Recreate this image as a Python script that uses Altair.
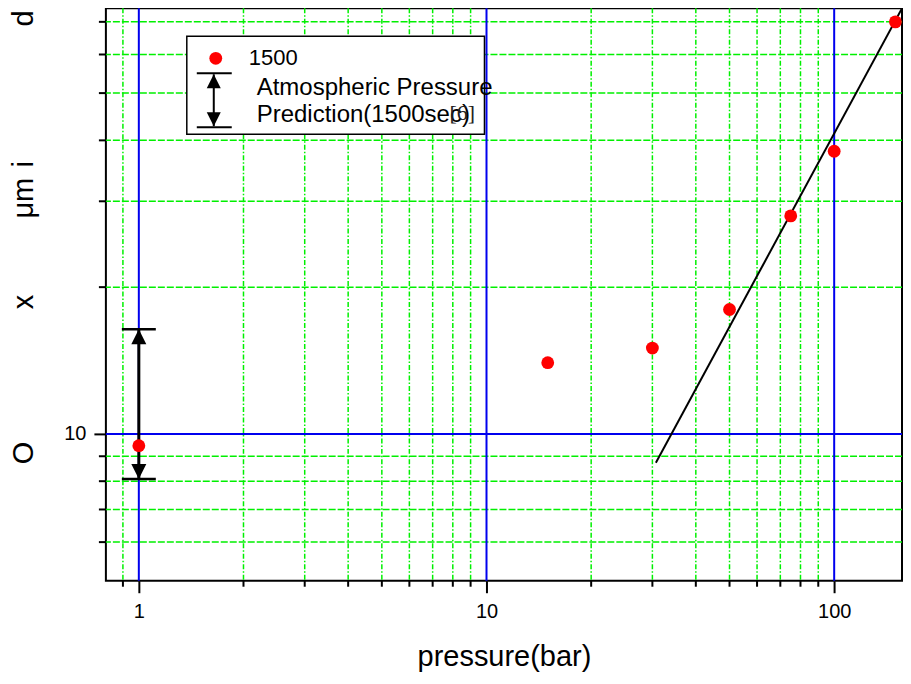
import altair as alt
import pandas as pd

# ---- data ----
pressure = [1, 15, 30, 50, 75, 100, 150]
oxide = [9.46, 14.0, 15.0, 18.0, 28.0, 38.0, 70.0]
fit_x = [30.7, 157]
fit_y = [8.73, 74.8]
err_x = [1]
err_lo = [8.08]
err_hi = [16.4]
x_major = [1, 10, 100]
x_minor = [0.9, 2, 3, 4, 5, 6, 7, 8, 9, 20, 30, 40, 50, 60, 70, 80, 90]
y_major = [10]
y_minor = [6, 7, 8, 9, 20, 30, 40, 50, 60, 70]
legend_labels = ["1500", "Atmospheric Pressure", "Prediction(1500sec)", "[6]"]
y_title_parts = ["O", "x", "μm", "i", "d"]
x_title = "pressure(bar)"

W, H = 797, 573
FONT = "Liberation Sans"
GREEN = "#00f000"
BLUE = "#0000ee"

xs = alt.Scale(type="log", domain=[0.804, 156.7], nice=False)
ys = alt.Scale(type="log", domain=[5.0, 74.6], nice=False)

AX = alt.Axis(values=x_major, tickSize=12, tickWidth=2, tickColor="black", grid=False,
              domain=False, labelFont=FONT, labelFontSize=20, labelColor="black",
              labelPadding=9, title=None, labelExpr="format(datum.value, 'd')")
AY = alt.Axis(values=y_major, tickSize=12, tickWidth=2, tickColor="black", grid=False,
              domain=False, labelFont=FONT, labelFontSize=20, labelColor="black",
              labelPadding=8, title=None, labelExpr="format(datum.value, 'd')")

def X(f):
    return alt.X(f, type="quantitative", scale=xs, axis=AX)

def Y(f):
    return alt.Y(f, type="quantitative", scale=ys, axis=AY)

pts = pd.DataFrame({"p": pressure, "o": oxide})
fit = pd.DataFrame({"p": fit_x, "o": fit_y})
err = pd.DataFrame({"p": err_x, "lo": err_lo, "hi": err_hi})
xmaj = pd.DataFrame({"p": x_major})
xmin = pd.DataFrame({"p": x_minor})
ymaj = pd.DataFrame({"o": y_major})
ymin = pd.DataFrame({"o": y_minor})
one = pd.DataFrame({"k": [0]})

layers = []
# gridlines
layers.append(alt.Chart(xmin).mark_rule(color=GREEN, strokeWidth=1.5, strokeDash=[5, 2, 1.5, 2]).encode(x=X("p")))
layers.append(alt.Chart(ymin).mark_rule(color=GREEN, strokeWidth=1.5, strokeDash=[7, 2]).encode(y=Y("o")))
layers.append(alt.Chart(xmaj).mark_rule(color=BLUE, strokeWidth=2).encode(x=X("p")))
layers.append(alt.Chart(ymaj).mark_rule(color=BLUE, strokeWidth=2).encode(y=Y("o")))
# minor ticks
layers.append(alt.Chart(xmin).mark_rule(color="black", strokeWidth=2).encode(
    x=X("p"), y=alt.value(H), y2=alt.value(H + 6)))
layers.append(alt.Chart(ymin).mark_rule(color="black", strokeWidth=2).encode(
    y=Y("o"), x=alt.value(-7), x2=alt.value(0)))
# error bar at atmospheric pressure
layers.append(alt.Chart(err).mark_rule(color="black", strokeWidth=3).encode(
    x=X("p"), y=Y("lo"), y2="hi"))
layers.append(alt.Chart(err).mark_tick(color="black", orient="horizontal", size=34, thickness=2.5, opacity=1).encode(
    x=X("p"), y=Y("lo")))
layers.append(alt.Chart(err).mark_tick(color="black", orient="horizontal", size=34, thickness=2.5, opacity=1).encode(
    x=X("p"), y=Y("hi")))
layers.append(alt.Chart(err).mark_point(shape="M0,0L-1,2L1,2Z", size=225, filled=True, color="black", opacity=1).encode(
    x=X("p"), y=Y("hi")))
layers.append(alt.Chart(err).mark_point(shape="M0,0L-1,-2L1,-2Z", size=225, filled=True, color="black", opacity=1).encode(
    x=X("p"), y=Y("lo")))
# fit line
layers.append(alt.Chart(fit).mark_line(color="black", strokeWidth=2).encode(x=X("p"), y=Y("o")))
# points
layers.append(alt.Chart(pts).mark_circle(color="#ff0000", size=165, opacity=1).encode(x=X("p"), y=Y("o")))

# legend
layers.append(alt.Chart(one).mark_rect(fill="white", stroke="black", strokeWidth=1.5).encode(
    x=alt.value(81), x2=alt.value(379), y=alt.value(28), y2=alt.value(126)))
layers.append(alt.Chart(one).mark_circle(color="#ff0000", size=165, opacity=1).encode(
    x=alt.value(110), y=alt.value(50)))
layers.append(alt.Chart(one).mark_text(text=legend_labels[0], font=FONT, fontSize=22, align="left",
    baseline="middle", color="black").encode(x=alt.value(143), y=alt.value(50)))
layers.append(alt.Chart(one).mark_rule(color="black", strokeWidth=2).encode(
    x=alt.value(108), y=alt.value(66), y2=alt.value(118)))
layers.append(alt.Chart(one).mark_rule(color="black", strokeWidth=2).encode(
    x=alt.value(91), x2=alt.value(126), y=alt.value(65)))
layers.append(alt.Chart(one).mark_rule(color="black", strokeWidth=2).encode(
    x=alt.value(91), x2=alt.value(126), y=alt.value(119)))
layers.append(alt.Chart(one).mark_point(shape="M0,0L-1,2L1,2Z", size=196, filled=True, color="black", opacity=1).encode(
    x=alt.value(108), y=alt.value(66)))
layers.append(alt.Chart(one).mark_point(shape="M0,0L-1,-2L1,-2Z", size=196, filled=True, color="black", opacity=1).encode(
    x=alt.value(108), y=alt.value(118)))
layers.append(alt.Chart(one).mark_text(text=legend_labels[1], font=FONT, fontSize=24, align="left",
    baseline="middle", color="black").encode(x=alt.value(151), y=alt.value(80)))
layers.append(alt.Chart(one).mark_text(text=legend_labels[2], font=FONT, fontSize=24, align="left",
    baseline="middle", color="black").encode(x=alt.value(151), y=alt.value(107)))
layers.append(alt.Chart(one).mark_text(text=legend_labels[3], font="Liberation Serif", fontSize=22, align="left",
    baseline="middle", color="#222222").encode(x=alt.value(344), y=alt.value(105)))

# axis titles
layers.append(alt.Chart(one).mark_text(text=x_title, font=FONT, fontSize=29, align="center",
    baseline="alphabetic", color="black").encode(x=alt.value(399), y=alt.value(658)))
y_pos = [445, 294, 190, 156, 10]
for t, yp in zip(y_title_parts, y_pos):
    layers.append(alt.Chart(one).mark_text(text=t, font=FONT, fontSize=29, align="center",
        baseline="alphabetic", angle=270, color="black").encode(x=alt.value(-73), y=alt.value(yp)))

chart = alt.layer(*layers).properties(
    width=W, height=H,
    autosize=alt.AutoSizeParams(type="none"),
    padding={"left": 98, "top": 0, "right": 1, "bottom": 91},
).configure_view(stroke="black", strokeWidth=2).configure_axis(
    labelFont=FONT, labelFontSize=20, labelColor="black")

chart.save("out.html", embed_options={"renderer": "svg", "actions": False})
